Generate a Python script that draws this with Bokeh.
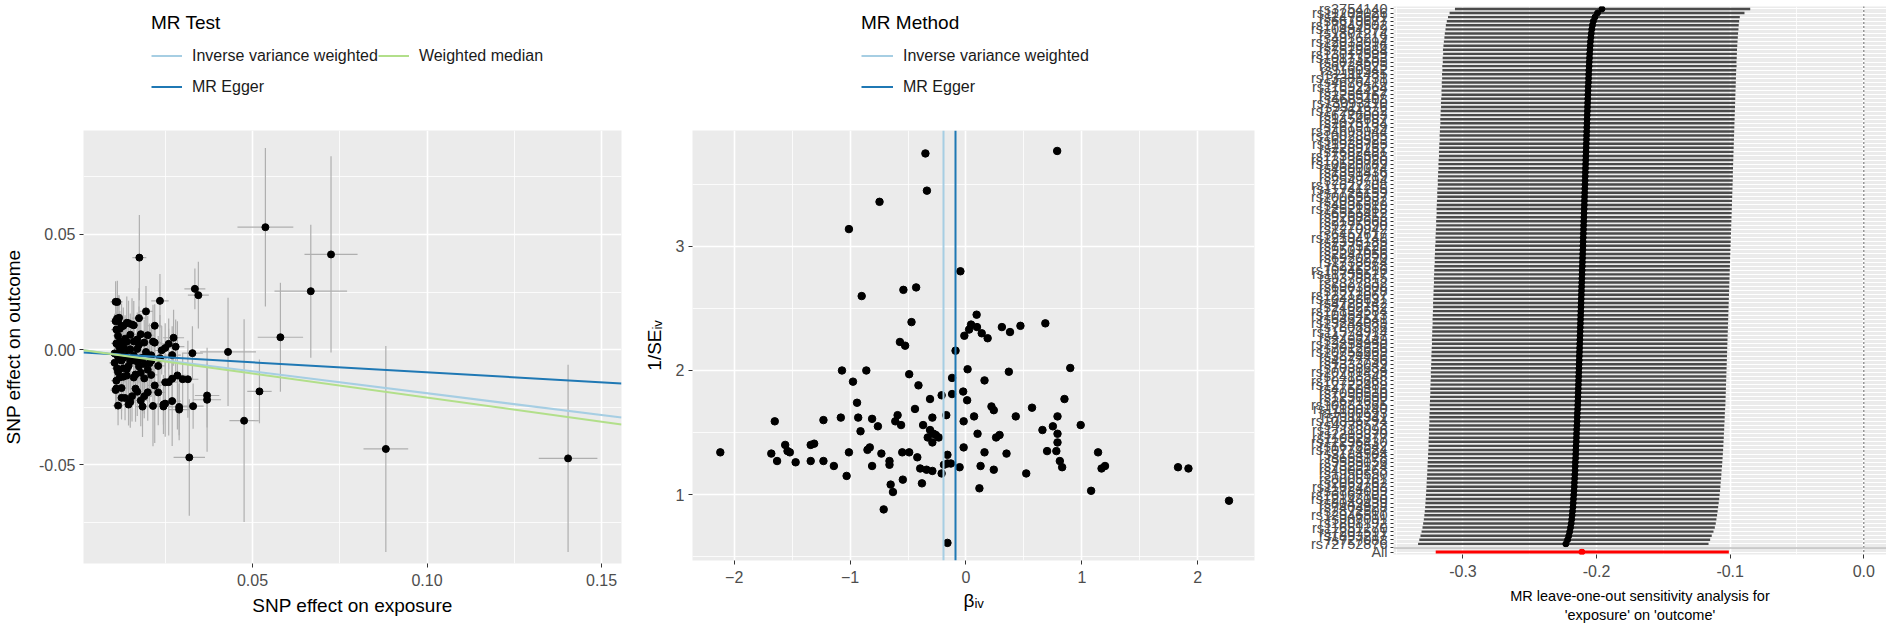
import numpy as np
from bokeh.plotting import figure
from bokeh.layouts import row, column
from bokeh.models import (FixedTicker, PrintfTickFormatter, Legend, LegendItem, Span,
                          Range1d, AllLabels)
from bokeh.embed import file_html
from bokeh.resources import INLINE

FONT = "Liberation Sans"

# ---------------- Panel 2 data (funnel): per-SNP IV estimate and precision ----------------
beta_iv = [-0.35, 0.787, -0.337, -0.746, -1.01, -0.048, -0.54, -0.43, -0.90, -0.47,
           0.092, 0.044, 0.095, 0.027, -0.014, 0.136, 0.187, 0.31, 0.38, 0.47,
           0.685, -0.57, -0.525, -0.09, -1.07, -0.86, -0.49, -0.975, -0.41, -0.12,
           0.014, 0.16, 0.37, 0.90, -0.94, -0.31, -0.21, -0.12, -0.024, 0.01,
           0.85, -0.44, 0.22, 0.24, 0.57, -1.65, -1.23, -1.08, -0.93, -0.81,
           -0.59, -0.29, -0.17, 0.07, 0.43, 0.79, -0.76, -0.91, -0.61, -0.56,
           -0.37, -0.02, -0.31, -0.28, -0.33, -0.29, -0.26, -0.235, 0.10, 0.26,
           0.29, 0.66, 0.75, 0.79, 0.99, 0.79, -2.12, -1.68, -1.56, -1.54,
           -1.52, -1.63, -1.47, -1.34, -1.34, -1.31, -1.23, -1.14, -1.01, -1.03,
           -0.85, -0.83, -0.81, -0.73, -0.66, -0.66, -0.65, -0.63, -0.71, -0.55,
           -0.49, -0.545, -0.42, -0.395, -0.38, -0.34, -0.29, -0.21, -0.19, -0.16,
           -0.16, -0.13, -0.055, -0.16, -0.02, 0.126, 0.116, 0.16, 0.24, 0.35,
           0.52, 0.70, 0.78, 0.81, 0.83, 1.08, 1.14, 1.17, 1.20, 1.83,
           1.92, 2.27]
inv_se = [3.75, 3.77, 3.45, 3.36, 3.14, 2.80, 2.65, 2.67, 2.60, 2.39,
          2.45, 2.37, 2.35, 2.33, 2.28, 2.30, 2.26, 2.35, 2.31, 2.36,
          2.38, 2.23, 2.20, 2.16, 2.00, 2.00, 1.97, 1.91, 1.88, 1.94,
          2.01, 1.92, 1.99, 2.02, 1.74, 1.77, 1.80, 1.81, 1.83, 1.76,
          1.77, 1.69, 1.71, 1.68, 1.70, 1.59, 1.60, 1.62, 1.62, 1.61,
          1.64, 1.62, 1.64, 1.63, 1.63, 1.63, 1.55, 1.51, 1.59, 1.56,
          1.56, 1.59, 1.52, 1.49, 1.46, 1.42, 1.48, 1.46, 1.49, 1.46,
          1.48, 1.52, 1.55, 1.49, 1.56, 1.42, 1.34, 1.33, 1.40, 1.35,
          1.34, 1.27, 1.26, 1.27, 1.40, 1.41, 1.27, 1.23, 1.34, 1.15,
          1.36, 1.38, 1.23, 1.33, 1.27, 1.24, 1.08, 1.02, 0.88, 1.34,
          1.34, 1.12, 1.30, 1.21, 1.09, 1.20, 1.19, 1.17, 1.24, 1.25,
          1.32, 1.25, 1.22, 0.61, 1.38, 1.23, 1.05, 1.34, 1.20, 1.33,
          1.17, 1.35, 1.35, 1.27, 1.22, 1.03, 1.34, 1.21, 1.23, 1.22,
          1.21, 0.95]

# ---------------- Panel 1 data: SNP effect on exposure (and its SE) ----------------
bx = [0.052, 0.0335, 0.1404, 0.033, 0.0245, 0.0328, 0.037, 0.030, 0.029, 0.027,
      0.058, 0.028, 0.026, 0.025, 0.024, 0.022, 0.0274, 0.020, 0.0667, 0.022,
      0.0345, 0.025, 0.021, 0.027, 0.019, 0.029, 0.0882, 0.0245, 0.0315, 0.020,
      0.017, 0.019, 0.018, 0.0235, 0.025, 0.023, 0.018, 0.021, 0.043, 0.015,
      0.0195, 0.020, 0.016, 0.014, 0.0725, 0.0145, 0.018, 0.017, 0.020, 0.023,
      0.037, 0.016, 0.019, 0.013, 0.015, 0.013, 0.016, 0.013, 0.014, 0.018,
      0.012, 0.0125, 0.017, 0.013, 0.019, 0.015, 0.0115, 0.021, 0.0118, 0.017,
      0.012, 0.016, 0.012, 0.0145, 0.0537, 0.011, 0.0115, 0.0125, 0.0135, 0.011,
      0.015, 0.0108, 0.0319, 0.0125, 0.0185, 0.0155, 0.011, 0.0215, 0.012, 0.0165,
      0.0115, 0.027, 0.014, 0.0112, 0.0165, 0.019, 0.0476, 0.013, 0.022, 0.0105,
      0.0145, 0.026, 0.0175, 0.0285, 0.0125, 0.015, 0.0205, 0.0135, 0.011, 0.0235,
      0.016, 0.0118, 0.0195, 0.0105, 0.0145, 0.0128, 0.0175, 0.0215, 0.011, 0.0135,
      0.0115, 0.0155, 0.0175, 0.0125, 0.014, 0.0115, 0.0108, 0.0118, 0.0112, 0.0113,
      0.0108, 0.0176]
bx_se = [0.0035, 0.003, 0.0084, 0.003, 0.0025, 0.003, 0.0035, 0.003, 0.003, 0.0025,
         0.0065, 0.0025, 0.0025, 0.0025, 0.002, 0.002, 0.003, 0.002, 0.0104, 0.002,
         0.003, 0.0025, 0.002, 0.0025, 0.002, 0.003, 0.0064, 0.0025, 0.003, 0.002,
         0.002, 0.002, 0.002, 0.0025, 0.0025, 0.002, 0.002, 0.002, 0.008, 0.0015,
         0.002, 0.002, 0.0015, 0.0015, 0.0076, 0.0015, 0.002, 0.002, 0.002, 0.002,
         0.004, 0.0015, 0.002, 0.0015, 0.0015, 0.0015, 0.0015, 0.0015, 0.0015, 0.002,
         0.0015, 0.0015, 0.002, 0.0015, 0.002, 0.0015, 0.0015, 0.002, 0.0015, 0.002,
         0.0015, 0.0015, 0.0015, 0.0015, 0.008, 0.0015, 0.0015, 0.0015, 0.0015, 0.0015,
         0.0015, 0.0015, 0.0045, 0.0015, 0.002, 0.0015, 0.0015, 0.002, 0.0015, 0.0015,
         0.0015, 0.0025, 0.0015, 0.0015, 0.0015, 0.002, 0.0042, 0.0015, 0.002, 0.0015,
         0.0015, 0.0025, 0.002, 0.0025, 0.0015, 0.0015, 0.002, 0.0015, 0.0015, 0.002,
         0.0015, 0.0015, 0.002, 0.0015, 0.0015, 0.0015, 0.002, 0.002, 0.0015, 0.0015,
         0.0015, 0.0015, 0.002, 0.0015, 0.0015, 0.0015, 0.0015, 0.0015, 0.0015, 0.0015,
         0.0015, 0.002]

# ---------------- MR method estimates ----------------
mr_methods = ["Inverse variance weighted", "MR Egger", "Weighted median"]
mr_slope = [-0.19, -0.087, -0.209]
mr_intercept = [0.0, -0.0012, 0.0]
mr_colors = ["#A6CEE3", "#1F78B4", "#B2DF8A"]

# ---------------- Panel 3 data: leave-one-out (top row to bottom row) ----------------
snp_labels = [
    "rs3754140",
    "rs11209026", "rs2476601", "rs6679677", "rs17849502", "rs10494879", "rs1801274", "rs4916219", "rs12033094", "rs2816316", "rs7528684",
    "rs13017599", "rs10173253", "rs3024505", "rs6738825", "rs1160542", "rs2111485", "rs13385731", "rs4676410", "rs11692564", "rs1534422",
    "rs2255167", "rs4685408", "rs13093110", "rs9311676", "rs17264332", "rs6776003", "rs1454687", "rs2075184", "rs7619139", "rs34695944",
    "rs10028805", "rs6828523", "rs11938795", "rs2289252", "rs7682481", "rs17388568", "rs13136820", "rs10520789", "rs4690074", "rs1391436",
    "rs6859219", "rs2549794", "rs17622208", "rs11741255", "rs7726159", "rs10065637", "rs2082382", "rs4836519", "rs12521868", "rs6556412",
    "rs9268853", "rs2187668", "rs9275390", "rs1270942", "rs6457617", "rs12194148", "rs2395185", "rs7775228", "rs9501626", "rs2247056",
    "rs6920220", "rs1738074", "rs212388", "rs10946216", "rs11755527", "rs9378815", "rs2327832", "rs6903608", "rs1571878", "rs12212067",
    "rs10488631", "rs4728142", "rs2402752", "rs17139584", "rs10954213", "rs6462541", "rs13244089", "rs7808536", "rs11574914", "rs4739737",
    "rs2456449", "rs13254990", "rs7012636", "rs10758669", "rs3824436", "rs4977756", "rs1333049", "rs7038634", "rs10781499", "rs2418548",
    "rs10795668", "rs12722489", "rs4750316", "rs7090530", "rs1250550", "rs2671692", "rs10883365", "rs11190140", "rs1800693", "rs7111341",
    "rs10896794", "rs4938573", "rs17118096", "rs2293370", "rs11052877", "rs12296430", "rs1678542", "rs10774624", "rs3184504", "rs653178",
    "rs9585056", "rs7329174", "rs4906263", "rs1950550", "rs8005161", "rs2069762", "rs11624293", "rs3784099", "rs16967103", "rs12148050",
    "rs8049439", "rs7404928", "rs2872507", "rs12946510", "rs907091", "rs1808192", "rs11651270", "rs7207591", "rs1893217", "rs727088",
    "rs72752876",
]
loo_b = [-0.1960, -0.1993, -0.2012, -0.2024, -0.2031, -0.2036, -0.2040, -0.2043, -0.2046, -0.2048,
         -0.2050, -0.2052, -0.2053, -0.2055, -0.2056, -0.2058, -0.2059, -0.2060, -0.2061, -0.2063,
         -0.2064, -0.2065, -0.2066, -0.2067, -0.2068, -0.2069, -0.2070, -0.2071, -0.2072, -0.2073,
         -0.2074, -0.2075, -0.2076, -0.2077, -0.2078, -0.2079, -0.2080, -0.2081, -0.2082, -0.2083,
         -0.2084, -0.2085, -0.2086, -0.2087, -0.2088, -0.2089, -0.2090, -0.2091, -0.2092, -0.2093,
         -0.2094, -0.2095, -0.2096, -0.2097, -0.2098, -0.2099, -0.2100, -0.2101, -0.2102, -0.2103,
         -0.2104, -0.2105, -0.2106, -0.2107, -0.2108, -0.2109, -0.2110, -0.2111, -0.2112, -0.2113,
         -0.2114, -0.2115, -0.2116, -0.2117, -0.2118, -0.2119, -0.2120, -0.2121, -0.2122, -0.2123,
         -0.2124, -0.2125, -0.2126, -0.2127, -0.2128, -0.2129, -0.2130, -0.2131, -0.2132, -0.2133,
         -0.2134, -0.2135, -0.2136, -0.2137, -0.2138, -0.2139, -0.2140, -0.2141, -0.2142, -0.2144,
         -0.2145, -0.2146, -0.2147, -0.2149, -0.2150, -0.2151, -0.2152, -0.2154, -0.2155, -0.2156,
         -0.2157, -0.2159, -0.2160, -0.2161, -0.2163, -0.2164, -0.2166, -0.2167, -0.2169, -0.2171,
         -0.2173, -0.2175, -0.2177, -0.2180, -0.2183, -0.2186, -0.2190, -0.2195, -0.2201, -0.2208,
         -0.2217, -0.2230]
loo_lo = [-0.3060, -0.3100, -0.3112, -0.3121, -0.3128, -0.3131, -0.3136, -0.3139, -0.3143, -0.3146,
          -0.3150, -0.3148, -0.3152, -0.3151, -0.3155, -0.3154, -0.3157, -0.3156, -0.3159, -0.3158,
          -0.3161, -0.3160, -0.3163, -0.3165, -0.3164, -0.3167, -0.3168, -0.3170, -0.3169, -0.3172,
          -0.3173, -0.3175, -0.3174, -0.3177, -0.3178, -0.3180, -0.3179, -0.3182, -0.3184, -0.3183,
          -0.3186, -0.3187, -0.3189, -0.3188, -0.3191, -0.3193, -0.3192, -0.3195, -0.3196, -0.3198,
          -0.3197, -0.3199, -0.3201, -0.3200, -0.3203, -0.3204, -0.3206, -0.3205, -0.3208, -0.3209,
          -0.3210, -0.3212, -0.3211, -0.3214, -0.3215, -0.3216, -0.3218, -0.3217, -0.3219, -0.3220,
          -0.3221, -0.3222, -0.3224, -0.3223, -0.3225, -0.3226, -0.3228, -0.3227, -0.3229, -0.3230,
          -0.3231, -0.3233, -0.3232, -0.3234, -0.3235, -0.3237, -0.3236, -0.3238, -0.3239, -0.3241,
          -0.3240, -0.3242, -0.3243, -0.3245, -0.3244, -0.3246, -0.3247, -0.3249, -0.3248, -0.3250,
          -0.3252, -0.3251, -0.3253, -0.3255, -0.3254, -0.3256, -0.3258, -0.3257, -0.3259, -0.3261,
          -0.3262, -0.3264, -0.3265, -0.3267, -0.3268, -0.3270, -0.3272, -0.3273, -0.3275, -0.3277,
          -0.3279, -0.3281, -0.3283, -0.3286, -0.3289, -0.3293, -0.3298, -0.3303, -0.3310, -0.3318,
          -0.3327, -0.3336]
loo_up = [-0.0850, -0.0893, -0.0928, -0.0933, -0.0936, -0.0938, -0.0941, -0.0943, -0.0945, -0.0947,
          -0.0949, -0.0950, -0.0951, -0.0953, -0.0952, -0.0955, -0.0956, -0.0957, -0.0958, -0.0959,
          -0.0960, -0.0961, -0.0962, -0.0963, -0.0964, -0.0965, -0.0966, -0.0967, -0.0968, -0.0969,
          -0.0970, -0.0971, -0.0972, -0.0973, -0.0974, -0.0975, -0.0976, -0.0977, -0.0978, -0.0979,
          -0.0980, -0.0980, -0.0981, -0.0982, -0.0983, -0.0984, -0.0985, -0.0986, -0.0987, -0.0988,
          -0.0989, -0.0990, -0.0991, -0.0992, -0.0993, -0.0994, -0.0995, -0.0996, -0.0997, -0.0998,
          -0.0999, -0.1000, -0.1001, -0.1002, -0.1003, -0.1004, -0.1005, -0.1006, -0.1007, -0.1008,
          -0.1009, -0.1010, -0.1011, -0.1012, -0.1013, -0.1014, -0.1015, -0.1016, -0.1017, -0.1018,
          -0.1019, -0.1020, -0.1021, -0.1022, -0.1023, -0.1024, -0.1025, -0.1026, -0.1027, -0.1028,
          -0.1029, -0.1030, -0.1031, -0.1032, -0.1033, -0.1034, -0.1035, -0.1036, -0.1038, -0.1040,
          -0.1041, -0.1042, -0.1044, -0.1045, -0.1047, -0.1048, -0.1050, -0.1051, -0.1053, -0.1055,
          -0.1057, -0.1059, -0.1061, -0.1064, -0.1066, -0.1068, -0.1071, -0.1073, -0.1076, -0.1079,
          -0.1082, -0.1086, -0.1090, -0.1094, -0.1098, -0.1103, -0.1108, -0.1115, -0.1125, -0.1138,
          -0.1150, -0.1162]
all_label = "All"
all_b = -0.211
all_lo = -0.3204
all_up = -0.1010
x3_label = "MR leave-one-out sensitivity analysis for\n'exposure' on 'outcome'"


def style(p, tick_size="16px", title_size="19px"):
    p.frame_align = False
    p.background_fill_color = "#EBEBEB"
    p.border_fill_color = "white"
    p.outline_line_color = None
    for ax in (p.xaxis[0], p.yaxis[0]):
        ax.axis_line_color = None
        ax.major_tick_line_color = "#333333"
        ax.major_tick_line_width = 1
        ax.major_tick_out = 4
        ax.major_tick_in = 0
        ax.minor_tick_out = 0
        ax.minor_tick_in = 0
        ax.major_label_text_font = FONT
        ax.major_label_text_font_size = tick_size
        ax.major_label_text_color = "#4D4D4D"
        ax.axis_label_text_font = FONT
        ax.axis_label_text_font_style = "normal"
        ax.axis_label_text_font_size = title_size
        ax.axis_label_text_color = "black"
    for g in (p.xgrid[0], p.ygrid[0]):
        g.grid_line_color = "white"
        g.grid_line_width = 1.6
        g.minor_grid_line_color = "white"
        g.minor_grid_line_width = 0.8


def legend_figure(width, title, ncols, gw, loc, renderer_fn):
    """A legend strip above a panel; its key glyphs are drawn by hidden renderers."""
    lf = figure(width=width, height=130, min_border=0, x_axis_type=None, y_axis_type=None,
                output_backend="svg", toolbar_location=None)
    lf.frame_align = False
    lf.outline_line_color = None
    lf.background_fill_color = "white"
    lf.grid.visible = False
    items = renderer_fn(lf)
    leg = Legend(items=items, location=loc, ncols=ncols, title=title,
                 glyph_width=gw, glyph_height=31, label_height=31, label_standoff=10,
                 spacing=0, padding=0, margin=0, title_standoff=6,
                 border_line_color=None, background_fill_alpha=0,
                 label_text_font=FONT, label_text_font_size="16px", label_text_color="#1a1a1a",
                 title_text_font=FONT, title_text_font_size="19px", title_text_font_style="normal",
                 title_text_color="black")
    lf.add_layout(leg)
    return lf


# ======================= Panel 1: scatter =======================
bx_a = np.array(bx)
by_a = np.array(beta_iv) * bx_a
by_se_a = bx_a / np.array(inv_se)
bx_se_a = np.array(bx_se)

X1 = (0.0016, 0.1557)
Y1 = (-0.0930, 0.0952)
p1 = figure(width=632, height=495, x_range=Range1d(*X1), y_range=Range1d(*Y1),
            min_border_left=79, min_border_right=11, min_border_top=0, min_border_bottom=62,
            output_backend="svg", toolbar_location=None)
style(p1)
p1.xaxis.ticker = FixedTicker(ticks=[0.05, 0.10, 0.15], minor_ticks=[0.025, 0.075, 0.125])
p1.yaxis.ticker = FixedTicker(ticks=[-0.05, 0.0, 0.05], minor_ticks=[-0.075, -0.025, 0.025, 0.075])
p1.xaxis.formatter = PrintfTickFormatter(format="%.2f")
p1.yaxis.formatter = PrintfTickFormatter(format="%.2f")
p1.xaxis.axis_label = "SNP effect on exposure"
p1.yaxis.axis_label = "SNP effect on outcome"
p1.xaxis.major_label_standoff = 6
p1.yaxis.major_label_standoff = 4
p1.xaxis.axis_label_standoff = 6
p1.yaxis.axis_label_standoff = 12

p1.segment(x0=bx_a, y0=by_a - by_se_a, x1=bx_a, y1=by_a + by_se_a, line_color="#AFAFAF", line_width=1.2)
p1.segment(x0=bx_a - bx_se_a, y0=by_a, x1=bx_a + bx_se_a, y1=by_a, line_color="#AFAFAF", line_width=1.2)
p1.scatter(bx_a, by_a, size=7, color="black")

xs_line = np.array(X1)
for k in range(3):
    p1.line(xs_line, mr_intercept[k] + mr_slope[k] * xs_line, line_color=mr_colors[k], line_width=2)


def legend1_items(lf):
    items = []
    for k in range(3):
        r = lf.line(xs_line, mr_intercept[k] + mr_slope[k] * xs_line, line_color=mr_colors[k],
                    line_width=2, visible=False)
        items.append(LegendItem(label=mr_methods[k], renderers=[r]))
    return items


lf1 = legend_figure(632, "MR Test", 2, 31, (151, 28), legend1_items)

# ======================= Panel 2: funnel =======================
X2 = (-2.36, 2.49)
Y2 = (0.468, 3.935)
p2 = figure(width=635, height=495, x_range=Range1d(*X2), y_range=Range1d(*Y2),
            min_border_left=60, min_border_right=13, min_border_top=0, min_border_bottom=65,
            output_backend="svg", toolbar_location=None)
style(p2)
p2.xaxis.ticker = FixedTicker(ticks=[-2, -1, 0, 1, 2], minor_ticks=[-1.5, -0.5, 0.5, 1.5])
p2.yaxis.ticker = FixedTicker(ticks=[1, 2, 3], minor_ticks=[0.5, 1.5, 2.5, 3.5])
p2.xaxis.axis_label = "\u03b2\u1d62\u1d65"
p2.yaxis.axis_label = "1/SE\u1d62\u1d65"
p2.xaxis.major_label_standoff = 6
p2.yaxis.major_label_standoff = 4
p2.xaxis.axis_label_standoff = 4
p2.yaxis.axis_label_standoff = 8

p2.scatter(beta_iv, inv_se, size=7.5, color="black")
for k in range(2):
    p2.vspan(x=[mr_slope[k]], line_color=mr_colors[k], line_width=2)


def legend2_items(lf):
    items = []
    for k in range(2):
        r = lf.vspan(x=[mr_slope[k]], line_color=mr_colors[k], line_width=2, visible=False)
        items.append(LegendItem(label=mr_methods[k], renderers=[r]))
    return items


lf2 = legend_figure(635, "MR Method", 1, 32, (229, 28), legend2_items)

# ======================= Panel 3: leave-one-out =======================
N = len(snp_labels)
pos_snp = np.array([N + 2 - i for i in range(N)], dtype=float)
pos_blank = 2.0
pos_all = 1.0
X3 = (-0.352, 0.017)
p3 = figure(width=619, height=625, x_range=Range1d(*X3), y_range=Range1d(0.4, N + 2.6),
            min_border_left=126, min_border_right=0, min_border_top=6, min_border_bottom=71,
            output_backend="svg", toolbar_location=None)
style(p3, tick_size="16px", title_size="14.5px")
p3.xaxis.ticker = FixedTicker(ticks=[-0.3, -0.2, -0.1, 0.0], minor_ticks=[-0.35, -0.25, -0.15, -0.05])
p3.xaxis.formatter = PrintfTickFormatter(format="%.1f")
ticks3 = [pos_all, pos_blank] + list(pos_snp)
p3.yaxis.ticker = FixedTicker(ticks=ticks3)
overrides = {pos_all: all_label, pos_blank: ""}
for i in range(N):
    overrides[float(pos_snp[i])] = snp_labels[i]
p3.yaxis.major_label_overrides = overrides
p3.yaxis.major_label_policy = AllLabels()
p3.yaxis.major_label_text_font_size = "14.5px"
p3.yaxis.major_tick_out = 3
p3.yaxis.major_label_standoff = 3
p3.xaxis.major_label_standoff = 6
p3.xaxis.axis_label = x3_label
p3.xaxis.axis_label_standoff = 8
p3.ygrid.grid_line_width = 1.0

p3.add_layout(Span(location=0, dimension="height", line_color="black", line_width=1.2, line_dash="1 3"))
p3.segment(x0=loo_lo, y0=pos_snp, x1=loo_up, y1=pos_snp, line_color="#4A4A4A", line_width=2.4)
p3.segment(x0=[all_lo], y0=[pos_all], x1=[all_up], y1=[pos_all], line_color="red", line_width=3)
p3.scatter(loo_b, pos_snp, size=6, color="black")
p3.scatter([all_b], [pos_all], size=6, color="red")
p3.add_layout(Span(location=pos_blank, dimension="width", line_color="#BEBEBE", line_width=1.5))

layout = row(column(lf1, p1, spacing=0), column(lf2, p2, spacing=0), p3, spacing=0)
open("out.html", "w").write(file_html(layout, INLINE))
